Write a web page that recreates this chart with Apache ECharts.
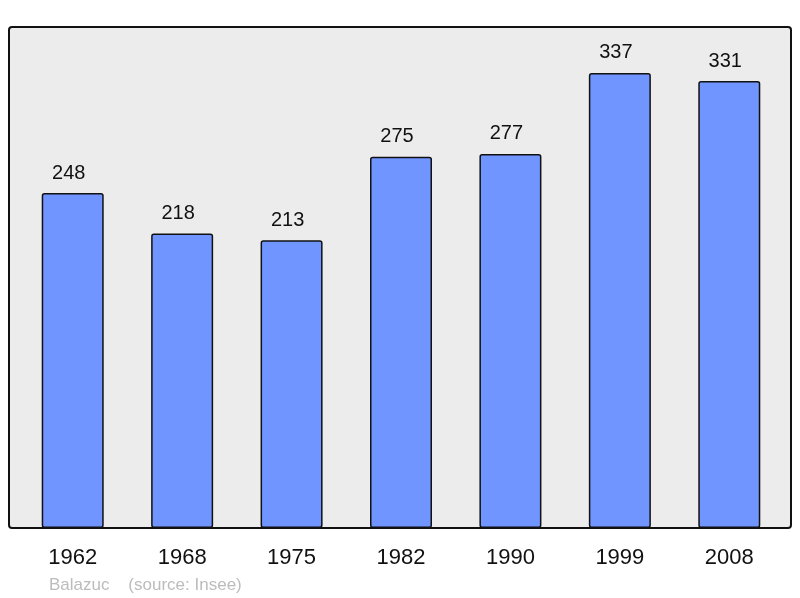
<!DOCTYPE html>
<html>
  <head>
    <meta charset="utf-8" />
    <title>Balazuc</title>
    <script src="https://cdn.jsdelivr.net/npm/echarts@6/dist/echarts.min.js"></script>
    <style>
      html, body { margin: 0; padding: 0; background: #fff; }
    </style>
  </head>
  <body>
    <div id="chart" style="width: 800px; height: 598px;"></div>
    <script>
      // population par recensement
      var years = ['1962', '1968', '1975', '1982', '1990', '1999', '2008']
      var population = [248, 218, 213, 275, 277, 337, 331]
      var sourceText = 'Balazuc    (source: Insee)'

      var myChart = echarts.init(document.getElementById('chart'))
      var font = '"Liberation Sans", Arial, sans-serif'
      var option = {
        animation: false,
        textStyle: { fontFamily: font },
        graphic: [
          {
            type: 'rect',
            z: -10,
            shape: { x: 9, y: 27, width: 782, height: 501, r: 3 },
            style: { fill: '#ececec', stroke: '#111', lineWidth: 2 }
          },
          {
            type: 'text',
            left: 49,
            top: 577,
            style: { text: sourceText, fill: '#bcbcbc', fontSize: 17, fontFamily: font }
          }
        ],
        grid: { left: 18, right: 16, top: 27, bottom: 70 },
        xAxis: {
          type: 'category',
          data: years,
          axisLine: { show: false },
          axisTick: { show: false },
          axisLabel: { color: '#111', fontSize: 22, margin: 19, fontFamily: font }
        },
        yAxis: {
          type: 'value',
          min: 0,
          max: 371,
          show: false,
          splitLine: { show: false }
        },
        series: [
          {
            type: 'bar',
            data: population,
            barWidth: 62,
            itemStyle: {
              color: '#7095ff',
              borderColor: '#111',
              borderWidth: 1.5,
              borderRadius: 2
            },
            label: {
              show: true,
              position: 'top',
              distance: 10,
              offset: [-4, 0],
              color: '#111',
              fontSize: 20,
              fontFamily: font
            }
          }
        ]
      }
      myChart.setOption(option)
    </script>
  </body>
</html>
